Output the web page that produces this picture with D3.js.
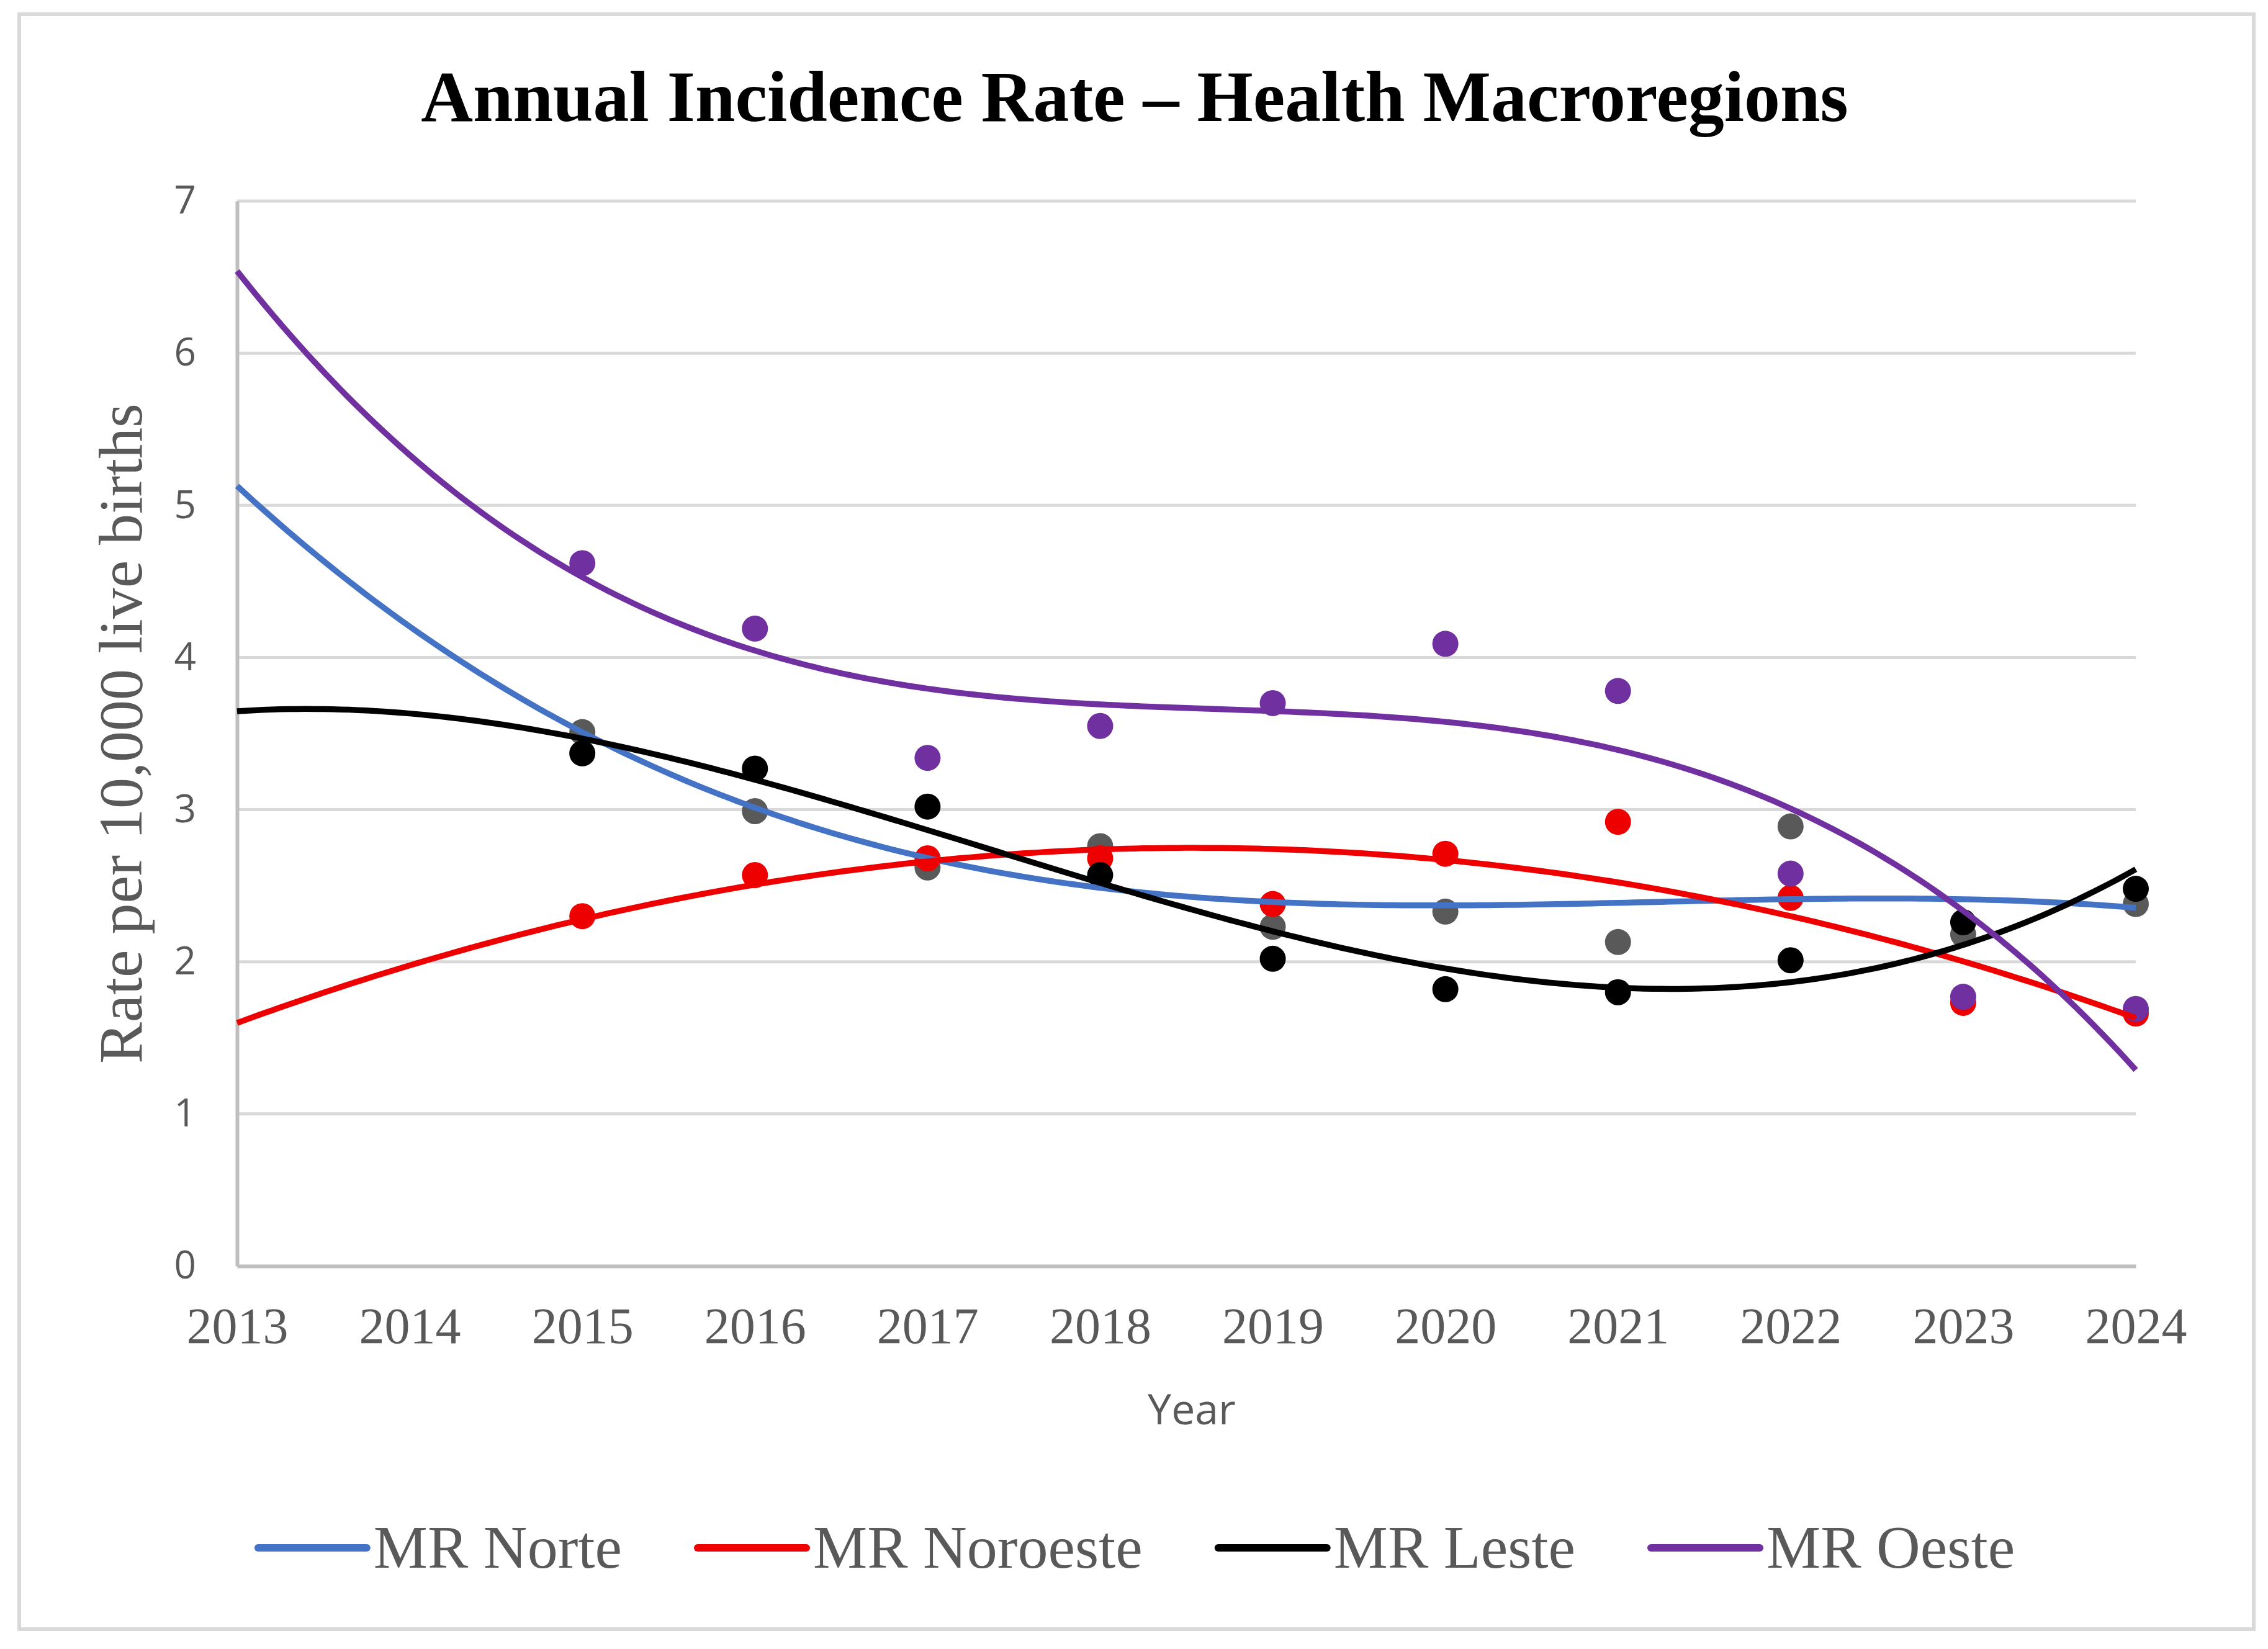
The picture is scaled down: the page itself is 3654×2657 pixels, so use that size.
<!DOCTYPE html>
<html lang="en">
<head>
<meta charset="UTF-8">
<title>Annual Incidence Rate – Health Macroregions</title>
<script src="https://d3js.org/d3.v7.min.js"></script>
<style>
  html, body { margin: 0; padding: 0; background: #fff; }
  svg { display: block; }
</style>
</head>
<body>
<div id="chart"></div>
<script>
// data
const years = [2015, 2016, 2017, 2018, 2019, 2020, 2021, 2022, 2023, 2024];
const mrNorte    = [3.51, 2.99, 2.62, 2.76, 2.23, 2.33, 2.13, 2.89, 2.18, 2.38];
const mrNoroeste = [2.30, 2.57, 2.68, 2.68, 2.38, 2.71, 2.92, 2.42, 1.73, 1.66];
const mrLeste    = [3.37, 3.27, 3.02, 2.57, 2.02, 1.82, 1.80, 2.01, 2.26, 2.48];
const mrOeste    = [4.62, 4.19, 3.34, 3.55, 3.70, 4.09, 3.78, 2.58, 1.77, 1.69];
const xTicks = [2013, 2014, 2015, 2016, 2017, 2018, 2019, 2020, 2021, 2022, 2023, 2024];
const yTicks = [0, 1, 2, 3, 4, 5, 6, 7];

// trendline polynomial order per series (Noroeste is a parabola)
const series = [
  { name: "MR Norte",    values: mrNorte,    order: 3, line: "#4472c4", marker: "#595959" },
  { name: "MR Noroeste", values: mrNoroeste, order: 2, line: "#ee0000", marker: "#ee0000" },
  { name: "MR Leste",    values: mrLeste,    order: 3, line: "#000000", marker: "#000000" },
  { name: "MR Oeste",    values: mrOeste,    order: 3, line: "#7030a0", marker: "#7030a0" }
];

const W = 3654, H = 2657;
const svg = d3.select("#chart").append("svg")
  .attr("width", W).attr("height", H)
  .attr("viewBox", `0 0 ${W} ${H}`);

// chart area border
svg.append("rect")
  .attr("x", 31).attr("y", 23).attr("width", 3600).attr("height", 2602)
  .attr("fill", "#fff").attr("stroke", "#d9d9d9").attr("stroke-width", 6);

const x = d3.scaleLinear().domain([2013, 2024]).range([382, 3441]);
const y = d3.scaleLinear().domain([0, 7]).range([2040, 324]);

// gridlines
svg.append("g")
  .selectAll("line")
  .data(yTicks.filter(d => d > 0))
  .join("line")
  .attr("x1", x(2013)).attr("x2", x(2024))
  .attr("y1", d => y(d)).attr("y2", d => y(d))
  .attr("stroke", "#d9d9d9").attr("stroke-width", 5);

// axes
const xAxis = svg.append("g")
  .attr("transform", `translate(0,${y(0)})`)
  .call(d3.axisBottom(x).tickValues(xTicks).tickFormat(d3.format("d")).tickSize(0).tickPadding(124));
xAxis.select(".domain").attr("stroke", "#bfbfbf").attr("stroke-width", 6);
xAxis.selectAll("text")
  .attr("font-family", "'Liberation Serif', 'Times New Roman', serif")
  .attr("font-size", 82).attr("fill", "#595959").attr("dy", 0);

const yAxis = svg.append("g")
  .attr("transform", `translate(${x(2013)},0)`)
  .call(d3.axisLeft(y).tickValues(yTicks).tickFormat(d3.format("d")).tickSize(0).tickPadding(66));
yAxis.select(".domain").attr("stroke", "#bfbfbf").attr("stroke-width", 6);
yAxis.selectAll("text")
  .attr("font-family", "'Open Sans', 'Noto Sans', sans-serif")
  .attr("font-size", 62).attr("fill", "#595959");

// markers
series.forEach(s => {
  svg.append("g")
    .selectAll("circle")
    .data(s.values)
    .join("circle")
    .attr("cx", (d, i) => x(years[i]))
    .attr("cy", d => y(d))
    .attr("r", 21)
    .attr("fill", s.marker);
});

// polynomial trendline, least squares, backward forecast to 2013
function polyFit(xs, ys, order) {
  const n = order + 1;
  const A = Array.from({ length: n }, () => new Array(n + 1).fill(0));
  xs.forEach((xv, k) => {
    for (let i = 0; i < n; i++) {
      for (let j = 0; j < n; j++) A[i][j] += Math.pow(xv, i + j);
      A[i][n] += ys[k] * Math.pow(xv, i);
    }
  });
  for (let c = 0; c < n; c++) {
    let p = c;
    for (let r = c + 1; r < n; r++) if (Math.abs(A[r][c]) > Math.abs(A[p][c])) p = r;
    [A[c], A[p]] = [A[p], A[c]];
    for (let r = 0; r < n; r++) {
      if (r === c) continue;
      const f = A[r][c] / A[c][c];
      for (let k = c; k <= n; k++) A[r][k] -= f * A[c][k];
    }
  }
  return A.map((row, i) => row[n] / row[i]);
}

const t0 = 2019.5;
const line = d3.line().x(d => x(d[0])).y(d => y(d[1]));
series.forEach(s => {
  const coef = polyFit(years.map(v => v - t0), s.values, s.order);
  const pts = d3.range(2013, 2024.001, 0.05).map(v => {
    const t = v - t0;
    return [v, coef.reduce((acc, c, i) => acc + c * Math.pow(t, i), 0)];
  });
  svg.append("path")
    .datum(pts)
    .attr("d", line)
    .attr("fill", "none")
    .attr("stroke", s.line)
    .attr("stroke-width", 9.5);
});

// title
svg.append("text")
  .attr("x", 1828).attr("y", 195)
  .attr("text-anchor", "middle")
  .attr("font-family", "'Liberation Serif', 'Times New Roman', serif")
  .attr("font-weight", "bold")
  .attr("font-size", 116)
  .attr("fill", "#000")
  .text("Annual Incidence Rate – Health Macroregions");

// axis titles
svg.append("text")
  .attr("transform", `translate(228,${(y(0) + y(7)) / 2}) rotate(-90)`)
  .attr("text-anchor", "middle")
  .attr("font-family", "'Liberation Serif', 'Times New Roman', serif")
  .attr("font-size", 100)
  .attr("fill", "#595959")
  .text("Rate per 10,000 live births");

svg.append("text")
  .attr("x", 1920).attr("y", 2295)
  .attr("text-anchor", "middle")
  .attr("font-family", "'Open Sans', 'Noto Sans', sans-serif")
  .attr("font-size", 68)
  .attr("fill", "#595959")
  .text("Year");

// legend
const legend = svg.append("g");
const items = legend.selectAll("g")
  .data(series)
  .join("g");
items.append("line")
  .attr("x1", 0).attr("x2", 175)
  .attr("y1", 0).attr("y2", 0)
  .attr("stroke", d => d.line)
  .attr("stroke-width", 12)
  .attr("stroke-linecap", "round");
items.append("text")
  .attr("x", 186).attr("y", 32)
  .attr("font-family", "'Liberation Serif', 'Times New Roman', serif")
  .attr("font-size", 98)
  .attr("fill", "#595959")
  .text(d => d.name);
let lx = 0;
items.each(function () {
  const g = d3.select(this);
  g.attr("transform", `translate(${lx},0)`);
  lx += 186 + g.select("text").node().getComputedTextLength() + 122;
});
const legendW = lx - 122;
legend.attr("transform", `translate(${1831 - legendW / 2},2494)`);
</script>
</body>
</html>
